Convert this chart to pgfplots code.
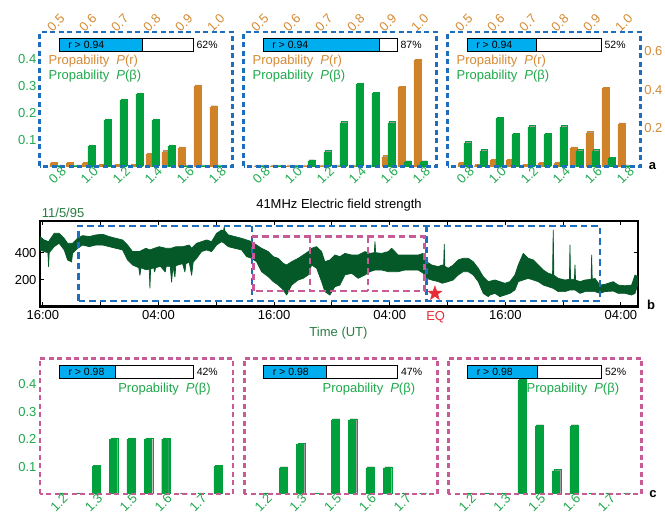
\documentclass[border=0pt]{standalone}
\usepackage{fontspec}
\setmainfont{Liberation Sans}
\usepackage{pgfplots}
\pgfplotsset{compat=1.18}
\definecolor{greenB}{RGB}{0,160,60}
\definecolor{greenT}{RGB}{30,168,75}
\definecolor{orangeB}{RGB}{208,130,40}
\definecolor{orangeT}{RGB}{212,138,52}
\definecolor{blueD}{RGB}{30,110,190}
\definecolor{pinkD}{RGB}{200,90,150}
\definecolor{darkG}{RGB}{5,88,40}
\definecolor{labG}{RGB}{40,125,65}
\definecolor{cyanP}{RGB}{0,174,239}
\definecolor{redS}{RGB}{230,45,55}
\definecolor{shadowG}{RGB}{160,160,160}
\pgfdeclareplotmark{fstar}{%
 \pgfpathmoveto{\pgfpointpolar{90}{\pgfplotmarksize}}%
 \pgfpathlineto{\pgfpointpolar{126}{0.4\pgfplotmarksize}}%
 \pgfpathlineto{\pgfpointpolar{162}{\pgfplotmarksize}}%
 \pgfpathlineto{\pgfpointpolar{198}{0.4\pgfplotmarksize}}%
 \pgfpathlineto{\pgfpointpolar{234}{\pgfplotmarksize}}%
 \pgfpathlineto{\pgfpointpolar{270}{0.4\pgfplotmarksize}}%
 \pgfpathlineto{\pgfpointpolar{306}{\pgfplotmarksize}}%
 \pgfpathlineto{\pgfpointpolar{342}{0.4\pgfplotmarksize}}%
 \pgfpathlineto{\pgfpointpolar{18}{\pgfplotmarksize}}%
 \pgfpathlineto{\pgfpointpolar{54}{0.4\pgfplotmarksize}}%
 \pgfpathclose\pgfusepathqfillstroke}
\newcommand\fs{\fontsize{13}{15}\selectfont}
\newcommand\fsm{\fontsize{10.5}{12}\selectfont}
\pgfplotsset{
  shadowed/.style={preaction={fill=shadowG, transform canvas={xshift=1.4pt,yshift=1.3pt}}},
  common/.style={scale only axis, anchor=south west, ymin=0, major tick length=0pt,
     /pgf/number format/assume math mode=true, tick label style={font=\fs}},
  panelA/.style={common, width=193pt, height=134.3pt, xmin=-1, xmax=11.06},
  greenA/.style={panelA, ymax=0.503, axis on top,
     axis line style={draw=blueD, line width=2.7pt, dash pattern=on 5pt off 3.5pt},
     xtick={0.65,2.65,4.65,6.65,8.65,10.65}, xticklabels={0.8,1.0,1.2,1.4,1.6,1.8},
     xticklabel style={rotate=45, anchor=east, text=greenT},
     yticklabel style={text=greenT}},
  orangeA/.style={panelA, ymax=0.70, axis x line*=top, axis y line*=right,
     axis line style={draw=none},
     xtick={-0.55,1.45,3.45,5.45,7.45,9.45}, xticklabels={0.5,0.6,0.7,0.8,0.9,1.0},
     xticklabel style={rotate=45, anchor=west, text=orangeT},
     yticklabel style={text=orangeT}},
  greenC/.style={common, width=193pt, height=135.7pt, xmin=-1.2, xmax=9.9, ymax=0.495, axis on top,
     axis line style={draw=pinkD, line width=2.7pt, dash pattern=on 5pt off 3.5pt},
     xtick={0.4,2.4,4.4,6.4,8.4}, xticklabels={1.2,1.3,1.5,1.6,1.7},
     xticklabel style={rotate=45, anchor=east, text=greenT},
     yticklabel style={text=greenT}},
  gbar/.style={ybar, bar width=6pt, bar shift=3pt, fill=greenB, draw=greenB, line width=0.3pt, shadowed},
  obar/.style={ybar, bar width=6pt, bar shift=-3pt, fill=orangeB, draw=orangeB, line width=0.3pt, shadowed},
  cbar/.style={ybar, bar width=7pt, bar shift=0pt, fill=greenB, draw=greenB, line width=0.3pt, shadowed},
}
\newcommand\pbar[5]{%
 \pgfmathsetmacro\xa{#1+19.3}%
 \pgfmathsetmacro\xb{#1+153.6}%
 \pgfmathsetmacro\xf{#1+19.3+#3*134.3}%
 \pgfmathsetmacro\yb{#2+13}%
 \pgfmathsetmacro\ym{#2+6.5}%
 \fill[cyanP] (\xa,#2) rectangle (\xf,\yb);
 \draw[black, line width=0.9pt] (\xa,#2) rectangle (\xb,\yb);
 \draw[black, line width=0.9pt] (\xf,#2) -- (\xf,\yb);
 \node[anchor=west, font=\fsm, inner sep=0pt] at ({\xa+9},\ym) {#4};
 \node[anchor=west, font=\fsm, inner sep=0pt] at ({\xb+3},\ym) {#5};
}
\begin{document}
\begin{tikzpicture}[x=1pt,y=1pt]
\useasboundingbox (0,0) rectangle (665,516);
% ---------------- panel a ----------------
\begin{axis}[orangeA, at={(39.8pt,349.7pt)}, ytick=\empty]
\addplot[obar] coordinates {(0,0.014)(1,0.014)(2,0.014)(3,0.004)(4,0.002)(5,0.004)(6,0.0625)(7,0.075)(8,0.095)(9,0.417)(10,0.309)};
\end{axis}
\begin{axis}[greenA, at={(39.8pt,349.7pt)}, ytick={0.1,0.2,0.3,0.4}, yticklabels={0.1,0.2,0.3,0.4}]
\addplot[gbar] coordinates {(0,0)(1,0)(2,0.075)(3,0.1725)(4,0.2475)(5,0.27)(6,0.1725)(7,0.075)(8,0)(9,0)(10,0)};
\end{axis}
\begin{axis}[orangeA, at={(243.8pt,349.7pt)}, ytick=\empty]
\addplot[obar] coordinates {(0,0)(1,0)(2,0)(3,0)(4,0)(5,0)(6,0)(7,0)(8,0.049)(9,0.41)(10,0.552)};
\end{axis}
\begin{axis}[greenA, at={(243.8pt,349.7pt)}, ytick=\empty]
\addplot[gbar] coordinates {(0,0)(1,0)(2,0)(3,0.02)(4,0.054)(5,0.1625)(6,0.3075)(7,0.2725)(8,0.1625)(9,0.016)(10,0.016)};
\end{axis}
\begin{axis}[orangeA, at={(447.8pt,349.7pt)}, ytick={0.2,0.4,0.6}, yticklabels={0.2,0.4,0.6}]
\addplot[obar] coordinates {(0,0.014)(1,0.003)(2,0.031)(3,0.031)(4,0.003)(5,0.014)(6,0.014)(7,0.095)(8,0.174)(9,0.405)(10,0.219)};
\end{axis}
\begin{axis}[greenA, at={(447.8pt,349.7pt)}, ytick=\empty]
\addplot[gbar] coordinates {(0,0.0875)(1,0.0575)(2,0.179)(3,0.119)(4,0.1475)(5,0.119)(6,0.1475)(7,0.0575)(8,0.0575)(9,0.029)(10,0)};
\end{axis}
\foreach \L/\p/\t in {39.8/0.62/62\%, 243.8/0.87/87\%, 447.8/0.52/52\%}{
  \pbar{\L}{464.3}{\p}{r > 0.94}{\t}
  \node[anchor=west, text=orangeT, font=\fs, inner sep=0pt] at ({\L+8.7},455) {Propability\hspace{7pt}\textit{P}(r)};
  \node[anchor=west, text=greenT, font=\fs, inner sep=0pt] at ({\L+8.7},440) {Propability\hspace{7pt}\textit{P}(β)};
}
\node[font=\fs\bfseries] at (652.5,349.5) {a};
% ---------------- panel b ----------------
\begin{axis}[scale only axis, anchor=south west, at={(40pt,209.5pt)}, width=598pt, height=85.5pt,
  xmin=-0.3, xmax=61.77, ymin=6, ymax=632,
  xtick={0,6,...,60}, xticklabels={16:00,,04:00,,16:00,,04:00,,16:00,,04:00},
  ytick={200,400}, yticklabels={200,400},
  tick align=inside, major tick length=4pt, tick style={line width=1pt, black},
  axis line style={line width=2.1pt}, tick label style={font=\fs},
  /pgf/number format/assume math mode=true]
% noise band: upper envelope left to right, then lower envelope right to left
\addplot[fill=darkG, draw=darkG, line width=0.7pt, line join=round] coordinates {
(-0.3,517)(0.13,493)(0.59,481)(1.17,542)(1.69,542)(2.21,505)(2.56,469)(3.08,469)(3.60,505)(4.12,525)
(4.81,518)(5.50,530)(6.20,535)(6.88,518)(7.58,505)(8.27,493)(8.79,456)(9.31,408)(10.00,408)(10.69,432)
(11.11,420)(11.55,432)(12.07,444)(12.77,432)(13.29,432)(13.81,444)(14.50,444)(15.19,456)(15.44,432)(15.96,469)
(16.47,481)(16.99,493)(17.51,481)(18.03,542)(18.55,566)(18.75,560)(18.82,590)(18.89,560)(19.24,530)(19.93,518)
(20.63,505)(21.15,493)(21.67,481)(22.18,456)(22.70,432)(23.39,408)(23.91,371)(24.43,359)(24.95,322)(25.30,310)
(25.82,334)(26.50,359)(27.02,383)(27.54,408)(27.89,432)(28.41,444)(28.93,408)(29.27,334)(29.79,347)(30.31,383)
(30.83,371)(31.35,395)(32.05,383)(32.73,383)(33.43,408)(33.95,395)(34.40,400)(34.47,481)(34.54,400)(35.16,395)
(35.85,408)(36.20,432)(36.88,383)(37.58,383)(38.27,383)(38.96,383)(39.48,395)(39.83,334)(40.35,310)(41.04,298)
(41.45,310)(41.60,305)(41.66,461)(41.72,300)(42.07,286)(42.59,310)(43.11,347)(43.63,359)(44.15,359)(44.67,334)
(45.19,286)(45.71,224)(46.23,188)(46.92,200)(47.44,188)(47.96,176)(48.48,188)(49.00,237)(49.34,310)(49.86,395)
(50.38,359)(50.90,347)(51.42,310)(51.94,273)(52.46,249)(52.90,240)(52.97,566)(53.04,235)(53.49,212)(54.19,200)
(54.65,205)(54.71,456)(54.77,205)(55.17,205)(55.23,310)(55.29,200)(55.75,188)(56.27,200)(56.90,205)(56.96,383)
(57.02,205)(57.30,212)(57.82,163)(58.34,168)(59.20,188)(59.72,163)(60.42,158)(61.11,163)(61.46,237)(61.74,224)
(61.74,163)(61.46,102)(61.11,90)(60.42,102)(59.72,102)(59.20,119)(58.34,115)(57.82,102)(57.30,115)(56.96,115)
(56.27,115)(55.75,102)(55.23,127)(54.71,127)(54.19,115)(53.49,115)(52.97,139)(52.46,151)(51.94,163)(51.42,188)
(50.90,200)(50.38,212)(49.86,200)(49.34,188)(49.00,127)(48.48,102)(47.96,90)(47.44,78)(46.92,102)(46.40,90)
(46.23,78)(45.71,102)(45.19,188)(44.67,237)(44.15,261)(43.63,261)(43.11,237)(42.59,200)(42.07,188)(41.45,176)
(41.04,188)(40.35,200)(39.83,212)(39.48,249)(38.96,273)(38.27,273)(37.58,273)(36.88,261)(36.20,261)(35.85,261)
(35.16,273)(34.47,273)(33.95,261)(33.43,237)(32.73,212)(32.05,249)(31.35,237)(30.83,163)(30.31,151)(29.79,90)
(29.27,115)(28.93,188)(28.41,286)(27.89,310)(27.54,237)(27.02,212)(26.50,200)(25.82,163)(25.30,90)(24.95,127)
(24.43,163)(23.91,188)(23.39,224)(22.70,261)(22.18,334)(21.67,359)(21.15,371)(20.63,420)(19.93,432)(19.24,444)
(18.82,469)(18.55,481)(18.03,456)(17.51,408)(16.99,420)(16.47,408)(15.96,359)(15.6,330)(15.44,234)(15.19,330)
(14.85,320)(14.74,259)(14.50,320)(13.8,305)(13.7,222)(13.5,300)(13.36,185)(13.22,300)(12.8,300)(12.7,259)
(12.2,300)(11.7,290)(11.6,259)(11.5,290)(11.18,280)(11.11,140)(11.04,280)(10.69,275)(10.19,290)(10.07,234)
(9.95,290)(9.31,310)(8.79,347)(8.27,420)(7.58,432)(6.88,444)(6.20,456)(5.50,456)(4.81,444)
(4.12,456)(3.60,432)(3.08,395)(2.98,332)(2.56,347)(2.21,420)(1.69,469)(1.17,444)(0.66,400)(0.59,298)(0.52,400)
(0.13,408)(-0.3,420)};
\addplot[only marks, mark=fstar, mark size=7.5pt, color=redS, fill=redS] coordinates {(40.69,102)};
\end{axis}
\draw[blueD, line width=2.4pt, dash pattern=on 6.5pt off 4pt] (78.3,215) rectangle (600,290);
\draw[blueD, line width=2.4pt, dash pattern=on 6.5pt off 4pt] (252,290) -- (252,215);
\draw[blueD, line width=2.4pt, dash pattern=on 6.5pt off 4pt] (426.5,290) -- (426.5,215);
\draw[pinkD, line width=2.4pt, dash pattern=on 6.5pt off 4pt] (253.5,225) rectangle (424.3,279.3);
\draw[pinkD, line width=2.4pt, dash pattern=on 6.5pt off 4pt] (310,279.3) -- (310,225);
\draw[pinkD, line width=2.4pt, dash pattern=on 6.5pt off 4pt] (367.7,279.3) -- (367.7,225);
\node[font=\fs] at (339,311) {41MHz Electric field strength};
\node[font=\fs, text=labG, anchor=west, inner sep=0pt] at (41.7,303.3) {11/5/95};
\node[font=\fs, text=labG] at (338.5,183.3) {Time (UT)};
\node[font=\fs, text=redS] at (435.7,199.3) {EQ};
\node[font=\fs\bfseries] at (651,211) {b};
% ---------------- panel c ----------------
\begin{axis}[greenC, at={(40pt,22pt)}, ytick={0.1,0.2,0.3,0.4}, yticklabels={0.1,0.2,0.3,0.4}]
\addplot[cbar] coordinates {(0,0)(1,0)(2,0.1)(3,0.2)(4,0.2)(5,0.2)(6,0.2)(7,0)(8,0)(9,0.1)};
\end{axis}
\begin{axis}[greenC, at={(244.3pt,22pt)}, ytick=\empty]
\addplot[cbar] coordinates {(0,0)(1,0.095)(2,0.18)(3,0)(4,0.27)(5,0.27)(6,0.095)(7,0.095)(8,0)(9,0)};
\end{axis}
\begin{axis}[greenC, at={(448.3pt,22pt)}, ytick=\empty]
\addplot[cbar] coordinates {(0,0)(1,0)(2,0)(3,0.414)(4,0.248)(5,0.085)(6,0.248)(7,0)(8,0)(9,0)};
\end{axis}
\foreach \L/\p/\t in {40/0.42/42\%, 244.3/0.47/47\%, 448.3/0.52/52\%}{
  \pbar{\L}{137.3}{\p}{r > 0.98}{\t}
  \node[anchor=east, text=greenT, font=\fs, inner sep=0pt] at ({\L+171},126.7) {Propability\hspace{7pt}\textit{P}(β)};
}
\node[font=\fs\bfseries] at (653,22) {c};
\end{tikzpicture}
\end{document}
